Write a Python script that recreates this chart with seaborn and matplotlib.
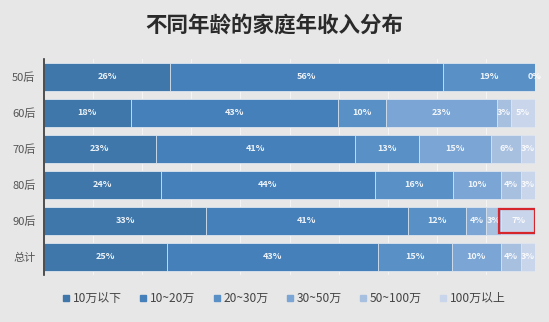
import numpy as np
import pandas as pd
import seaborn as sns
import matplotlib
matplotlib.use("Agg")
import matplotlib.pyplot as plt
from matplotlib.patches import Rectangle
from matplotlib.lines import Line2D

sns.set_theme(style="white")
plt.rcParams['font.family'] = ['Noto Sans CJK SC', 'DejaVu Sans']

title = "不同年龄的家庭年收入分布"
groups = ["50后", "60后", "70后", "80后", "90后", "总计"]
series = ["10万以下", "10~20万", "20~30万", "30~50万", "50~100万", "100万以上"]
s1 = [26, 18, 23, 24, 33, 25]
s2 = [56, 43, 41, 44, 41, 43]
s3 = [19, 10, 13, 16, 12, 15]
s4 = [0, 23, 15, 10, 4, 10]
s5 = [0, 3, 6, 4, 3, 4]
s6 = [0, 5, 3, 3, 7, 3]
colors = ["#3f77aa", "#4680ba", "#5991c6", "#7ba5d4", "#a8c0e0", "#c9d5ea"]

vals = np.array([s1, s2, s3, s4, s5, s6], dtype=float)
totals = vals.sum(axis=0)
norm = vals / totals * 100
cum = np.cumsum(norm, axis=0)

fig = plt.figure(figsize=(5.49, 3.22), dpi=100)
fig.patch.set_facecolor("#e7e7e7")
ax = fig.add_axes([0.080, 0.146, 0.895, 0.671])
ax.set_facecolor("#e7e7e7")

for k in range(len(series) - 1, -1, -1):
    df = pd.DataFrame({"group": groups, "value": cum[k]})
    sns.barplot(data=df, x="value", y="group", orient="h", color=colors[k],
                saturation=1, width=0.78, edgecolor="#dfe6ef", linewidth=0.6, ax=ax)

for k in range(len(series)):
    left = cum[k] - norm[k]
    for i in range(len(groups)):
        if vals[k, i] == 0 and not (k == 3 and i == 0):
            continue
        xpos = left[i] + norm[k, i] / 2
        if k == 3 and i == 0:
            xpos = 99.8
        ax.text(xpos, i, f"{int(vals[k, i])}%", ha="center", va="center",
                color="white", fontsize=6.5, fontweight="bold", alpha=0.9)

# highlight box around 90后 last segment
i90 = groups.index("90后")
lft = cum[4][i90]
ax.add_patch(Rectangle((lft - 0.3, i90 - 0.33), norm[5][i90] + 0.3, 0.66,
                       fill=False, edgecolor="#d6262b", linewidth=1.6, zorder=5))

ax.set_xlim(0, 100)
ax.set_ylim(5.5, -0.5)
ax.set_xticks(np.arange(0, 101, 10))
ax.set_xticklabels([])
ax.grid(axis="x", color="#f4f4f4", linewidth=0.8)
ax.set_axisbelow(True)
ax.set_xlabel("")
ax.set_ylabel("")
ax.tick_params(axis="y", length=0, labelsize=8, labelcolor="#555555", pad=6)
ax.tick_params(axis="x", length=0)
for sp in ["top", "right", "bottom"]:
    ax.spines[sp].set_visible(False)
ax.spines["left"].set_color("#333333")
ax.spines["left"].set_linewidth(1.2)

handles = [Line2D([0], [0], marker="s", linestyle="", markersize=4.5,
                  markerfacecolor=c, markeredgecolor=c) for c in colors]
fig.legend(handles, series, loc="center", bbox_to_anchor=(0.515, 0.072), ncol=6,
           frameon=False, fontsize=8.6, handletextpad=0.05, columnspacing=1.3,
           handlelength=1.0, labelcolor="#444444")

fig.text(0.5, 0.922, title, ha="center", va="center", fontsize=15.5,
         fontweight="bold", color="#2a2a2a")

fig.savefig("out.png", dpi=100, facecolor=fig.get_facecolor())
